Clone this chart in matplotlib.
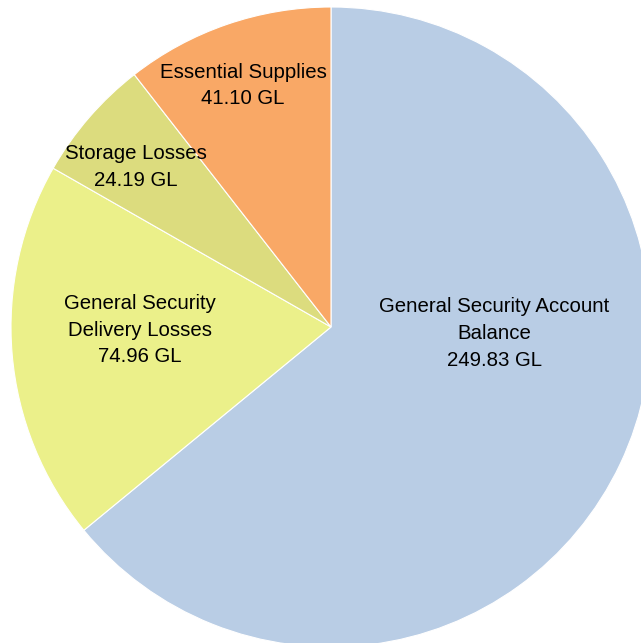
import matplotlib.pyplot as plt

# values (GL), in clockwise order from 12 o'clock
categories = ["General Security Account\nBalance",
              "General Security\nDelivery Losses",
              "Storage Losses",
              "Essential Supplies"]
volumes = [249.83, 74.96, 24.19, 41.10]
colors = ["#B9CDE5", "#EBF08A", "#DCDC7E", "#F9A866"]

# label centres in pie-radius units (hand placed, like the original)
label_pos = [(0.51, -0.02), (-0.597, -0.01), (-0.61, 0.50), (-0.275, 0.755)]

fig = plt.figure(figsize=(6.41, 6.43), dpi=100)
ax = fig.add_axes([11 / 641, -4 / 643, 640 / 641, 640 / 643])

wedges, _ = ax.pie(volumes, colors=colors, startangle=90, counterclock=False,
                   radius=1, wedgeprops=dict(edgecolor="white", linewidth=0.8))

for name, val, (x, y) in zip(categories, volumes, label_pos):
    ax.text(x, y, f"{name}\n{val:.2f} GL", ha="center", va="center",
            fontsize=14.7, family="Liberation Sans", linespacing=1.52)

ax.set_xlim(-1, 1)
ax.set_ylim(-1, 1)
ax.set_aspect("equal")
ax.axis("off")

fig.savefig("out.png", dpi=100)
